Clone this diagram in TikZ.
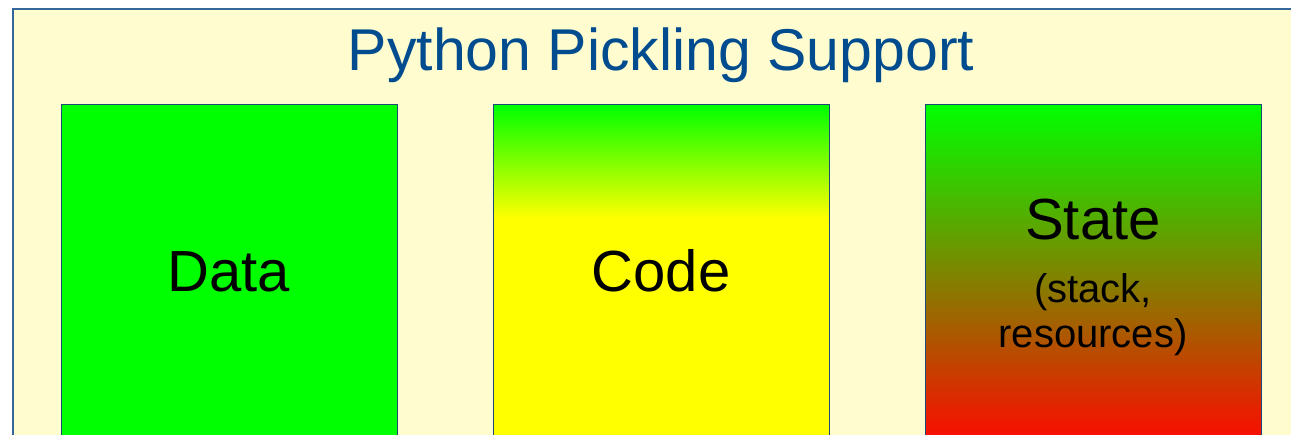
\documentclass[tikz,border=0pt]{standalone}
\usepackage{fontspec}
\setmainfont{Liberation Sans}
\definecolor{bgyellow}{HTML}{FFFDD0}
\definecolor{framecol}{HTML}{35679A}
\definecolor{boxedge}{HTML}{1F4A78}
\definecolor{titleblue}{HTML}{004C8F}
\definecolor{pgreen}{HTML}{00FF00}
\definecolor{pyellow}{HTML}{FFFF00}
\definecolor{pred}{HTML}{FF0800}
\begin{document}
\begin{tikzpicture}[x=1pt,y=1pt,
  box/.style={draw=boxedge,line width=1pt},
  big/.style={font=\fontsize{58}{62}\selectfont,text=black,anchor=base,inner sep=0pt},
  small/.style={font=\fontsize{40}{44}\selectfont,text=black,anchor=base,inner sep=0pt}]
\useasboundingbox (0,0) rectangle (1291,-435);
\clip (0,0) rectangle (1291,-435);
% frame
\fill[white] (0,0) rectangle (1291,-435);
\draw[fill=bgyellow,draw=framecol,line width=1.5pt] (13,-9) rectangle (1320,-470);
% title
\node[font=\fontsize{59}{63}\selectfont,text=titleblue,anchor=base,inner sep=0pt] (title) at (661,-71) {Python Pickling Support};
% Data
\draw[box,fill=pgreen] (61,-105) rectangle (397,-470);
\node[big] (data) at (229,-292) {Data};
% Code
\fill[pyellow] (493,-105) rectangle (829,-470);
\shade[top color=pgreen,bottom color=pyellow] (493,-105) rectangle (829,-218);
\draw[box] (493,-105) rectangle (829,-470);
\node[big] (code) at (661,-292) {Code};
% State
\shade[top color=pgreen,bottom color=pred] (925,-105) rectangle (1261,-445);
\draw[box] (925,-105) rectangle (1261,-470);
\node[big] (state) at (1093,-240) {State};
\node[small] (stack) at (1093,-303) {(stack,};
\node[small] (res) at (1093,-348) {resources)};
\end{tikzpicture}
\end{document}
